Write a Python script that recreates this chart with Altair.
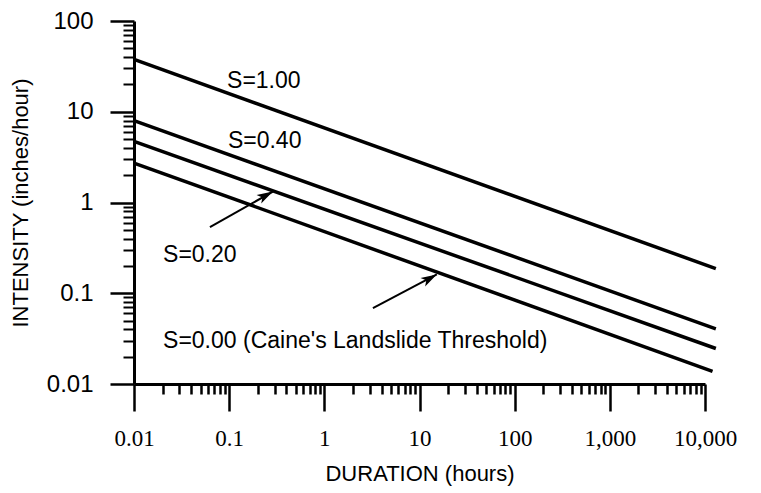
import altair as alt
import pandas as pd

# ---- data ----
series = ["S=1.00", "S=0.40", "S=0.20", "S=0.00"]
dur_start = [0.01, 0.01, 0.01, 0.01]
dur_end = [13000, 13000, 13000, 12000]
int_start = [37.7, 7.98, 4.72, 2.72]
int_end = [0.187, 0.0406, 0.0246, 0.0138]

label_text = ["S=1.00", "S=0.40", "S=0.20", "S=0.00 (Caine's Landslide Threshold)"]
label_dur = [0.095, 0.097, 0.0202, 0.0202]
label_int = [21.7, 4.72, 0.265, 0.030]

arrow_tail_dur = [0.0628, 3.24]
arrow_tail_int = [0.535, 0.0687]
arrow_head_dur = [0.288, 15.2]
arrow_head_int = [1.32, 0.161]

x_major = [0.01, 0.1, 1, 10, 100, 1000, 10000]
y_major = [0.01, 0.1, 1, 10, 100]
x_minor = [m * 10.0 ** e for e in range(-2, 4) for m in range(2, 10)]
y_minor = [m * 10.0 ** e for e in range(-2, 2) for m in range(2, 10)]

# ---- tables ----
rows = []
for s, d0, d1, i0, i1 in zip(series, dur_start, dur_end, int_start, int_end):
    rows.append({"S": s, "D": d0, "I": i0})
    rows.append({"S": s, "D": d1, "I": i1})
lines_df = pd.DataFrame(rows)
labels_df = pd.DataFrame({"t": label_text, "D": label_dur, "I": label_int})
arrows_df = pd.DataFrame({"x1": arrow_tail_dur, "y1": arrow_tail_int,
                          "x2": arrow_head_dur, "y2": arrow_head_int})

xscale = alt.Scale(type="log", domain=[0.01, 10000], nice=False)
yscale = alt.Scale(type="log", domain=[0.01, 100], nice=False)

x_major_axis = alt.Axis(
    orient="bottom", values=x_major, format=",~g", grid=False,
    domainColor="black", domainWidth=3, tickColor="black", tickWidth=2.5,
    tickSize=27, labelFont="Liberation Serif", labelFontSize=23,
    labelColor="black", labelPadding=16, labelFlush=False, labelOverlap=False,
    title="DURATION  (hours)", titleFont="Liberation Sans", titleFontSize=22,
    titleFontWeight="normal", titleColor="black", titlePadding=13,
)
y_major_axis = alt.Axis(
    orient="left", values=y_major, format="~g", grid=False,
    domainColor="black", domainWidth=3, tickColor="black", tickWidth=2.5,
    tickSize=24, labelFont="Liberation Sans", labelFontSize=24,
    labelColor="black", labelPadding=17, labelFlush=False, labelOverlap=False,
    title="INTENSITY (inches/hour)", titleFont="Liberation Sans",
    titleFontSize=22, titleFontWeight="normal", titleColor="black",
    titlePadding=14,
)
x_minor_axis = alt.Axis(orient="bottom", values=x_minor, labels=False,
                        domain=False, grid=False, tickColor="black",
                        tickWidth=2.5, tickSize=10)
y_minor_axis = alt.Axis(orient="left", values=y_minor, labels=False,
                        domain=False, grid=False, tickColor="black",
                        tickWidth=2, tickSize=11)

lines = alt.Chart(lines_df).mark_line(color="black", strokeWidth=3.5).encode(
    x=alt.X("D:Q", scale=xscale, axis=x_major_axis),
    y=alt.Y("I:Q", scale=yscale, axis=y_major_axis),
    detail="S:N",
)

minor = alt.Chart(lines_df).mark_point(opacity=0).encode(
    x=alt.X("D:Q", scale=xscale, axis=x_minor_axis, title=None),
    y=alt.Y("I:Q", scale=yscale, axis=y_minor_axis, title=None),
)

texts = alt.Chart(labels_df).mark_text(
    align="left", baseline="middle", font="Liberation Sans", fontSize=23,
    color="black",
).encode(
    x=alt.X("D:Q", scale=xscale, axis=None),
    y=alt.Y("I:Q", scale=yscale, axis=None),
    text="t:N",
)

arrow_lines = alt.Chart(arrows_df).mark_rule(color="black", strokeWidth=2).encode(
    x=alt.X("x1:Q", scale=xscale, axis=None),
    y=alt.Y("y1:Q", scale=yscale, axis=None),
    x2="x2:Q",
    y2="y2:Q",
)

arrow_heads = alt.Chart(arrows_df).mark_point(
    shape="M0,0 L-0.6,2 L0,1.5 L0.6,2 Z", filled=True, size=256, angle=61,
    color="black", opacity=1, strokeWidth=0,
).encode(
    x=alt.X("x2:Q", scale=xscale, axis=None),
    y=alt.Y("y2:Q", scale=yscale, axis=None),
)

chart = alt.layer(lines, minor, texts, arrow_lines, arrow_heads).resolve_axis(
    x="independent", y="independent"
).properties(
    width=571, height=363,
    autosize=alt.AutoSizeParams(type="none"),
    padding={"left": 126, "top": 13, "right": 40, "bottom": 106},
    background="white",
).configure_view(stroke=None)

chart.save("out.html", embed_options={"renderer": "svg", "actions": False})
